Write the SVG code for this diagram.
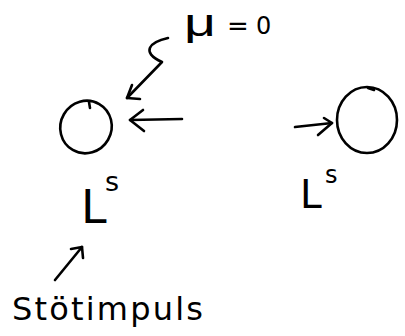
<svg xmlns="http://www.w3.org/2000/svg" width="405" height="336" viewBox="0 0 405 336">
<style>
.ink{fill:none;stroke:#000;stroke-width:2.6;stroke-linecap:round;stroke-linejoin:round}
.t{font-family:"DejaVu Sans","Liberation Sans",sans-serif;fill:#000}
</style>
<rect width="405" height="336" fill="#fff"/>
<g id="ball-left">
<ellipse class="ink" cx="86" cy="127" rx="25.5" ry="26.5" transform="rotate(30 86 127)"/>
<path class="ink" d="M89 102 L90 108"/>
</g>
<g id="ball-right">
<ellipse class="ink" cx="367" cy="120" rx="30" ry="33"/>
<path class="ink" d="M368 88 L374 90"/>
</g>
<g id="connectors">
<path class="ink" d="M168 38 C150 42 140 52 162 62 L127 98"/>
<path class="ink" d="M132 85 L127 98 L140 99"/>
<path class="ink" d="M182 119 L130 120"/>
<path class="ink" d="M143 110 L130 120 L144 131"/>
<path class="ink" d="M295 127 L332 123"/>
<path class="ink" d="M324 118 L332 123 L318 135"/>
<path class="ink" d="M55 280 L82 247"/>
<path class="ink" d="M71 249 L82 247 L83 258"/>
</g>
<g id="labels">
<text x="184" y="36" font-family="'Liberation Sans',sans-serif" font-size="38" textLength="32" lengthAdjust="spacingAndGlyphs">μ</text>
<text class="t" x="227" y="35" font-size="26">=</text>
<text class="t" x="256" y="34" font-size="24">0</text>
<text class="t" x="81" y="223" font-size="46">L</text>
<text class="t" x="105" y="191" font-size="27">s</text>
<text class="t" x="300" y="208" font-size="39">L</text>
<text class="t" x="325" y="183" font-size="24">s</text>
<text class="t" x="12" y="320" font-size="32" textLength="191" lengthAdjust="spacing">Stötimpuls</text>
</g>
</svg>
